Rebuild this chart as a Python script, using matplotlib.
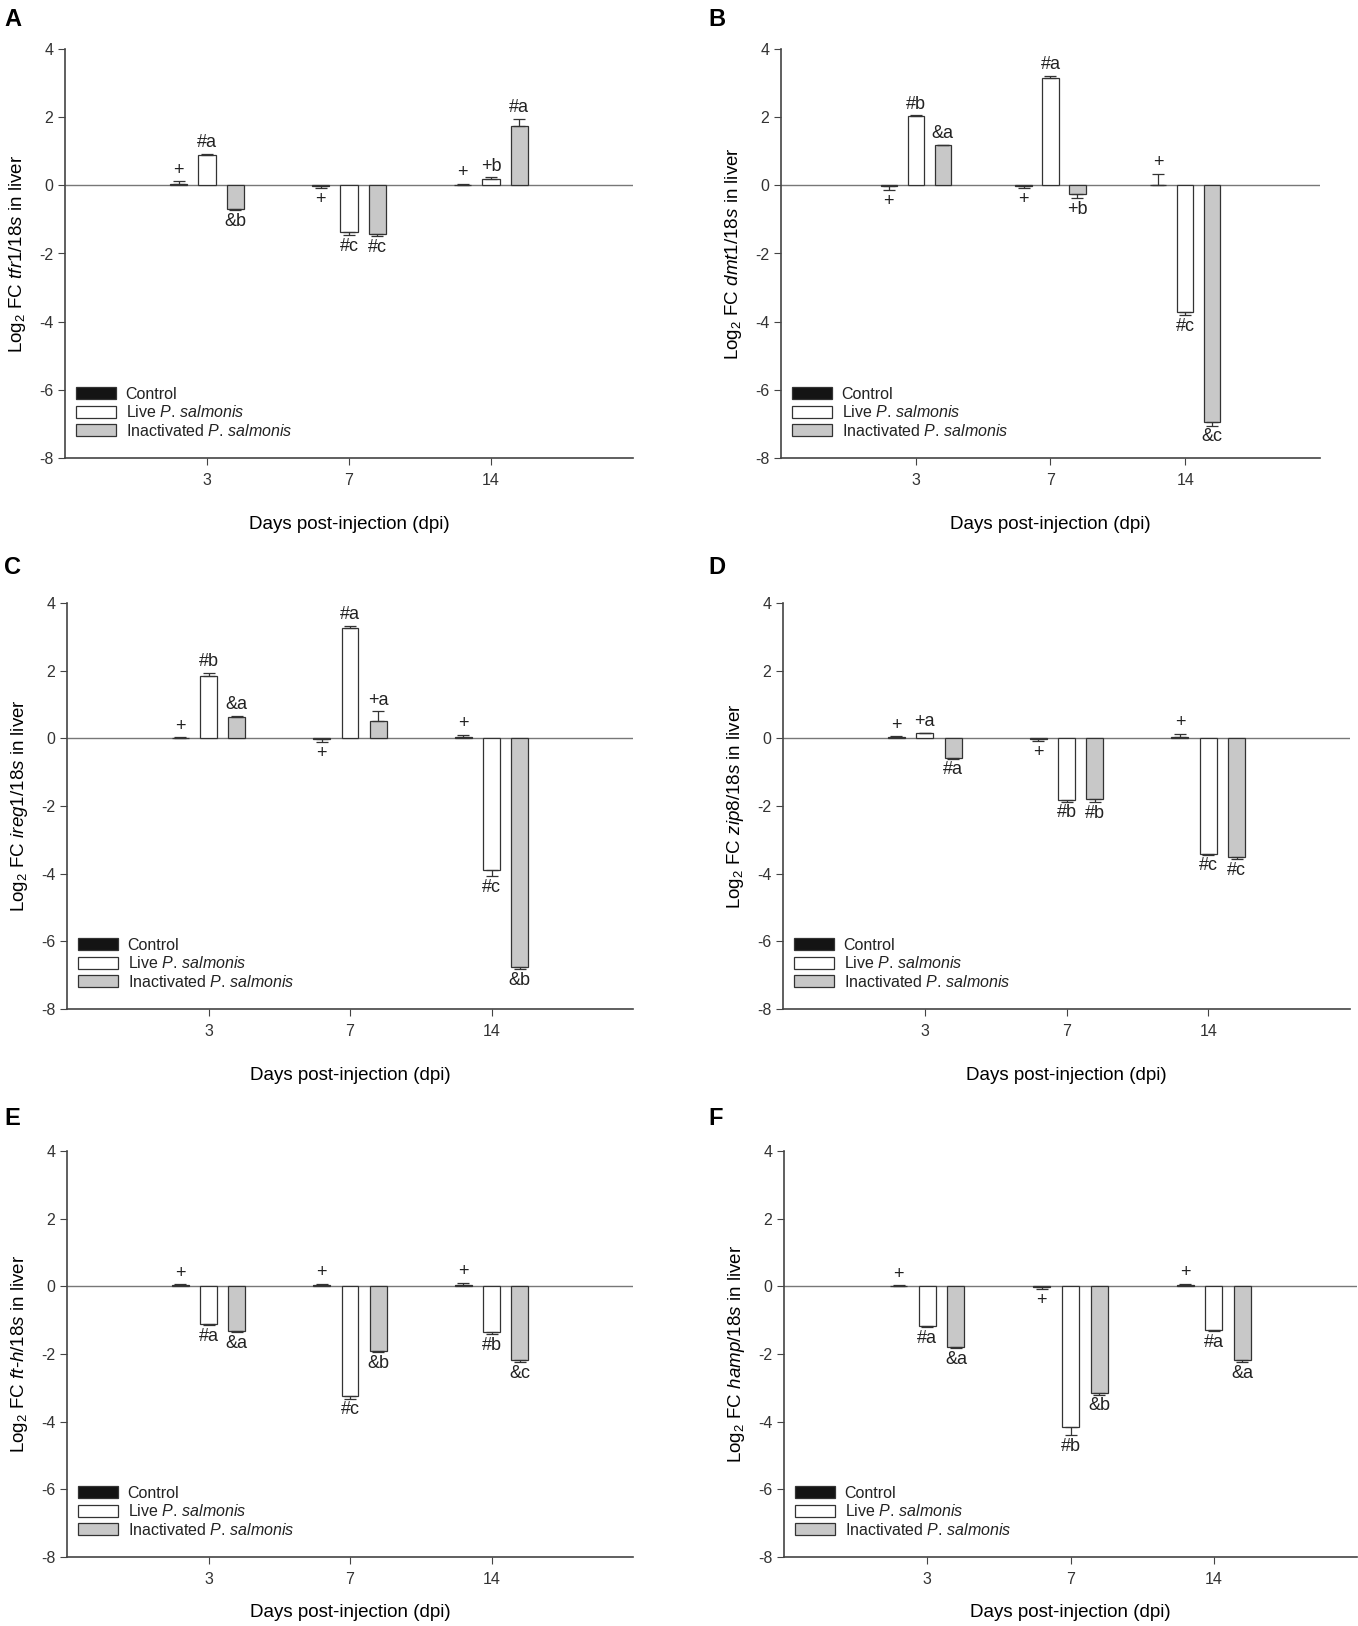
import matplotlib
matplotlib.use('Agg')
import matplotlib.pyplot as plt
import numpy as np
from matplotlib.patches import Patch

days = ['3', '7', '14']
groups = ['Control', r'Live $\mathit{P.\,salmonis}$',
          r'Inactivated $\mathit{P.\,salmonis}$']

# rows: control, live, inactivated ; columns: 3, 7, 14 dpi
tfr1_mean = [[0.05, -0.03, 0.02], [0.90, -1.37, 0.18], [-0.70, -1.42, 1.75]]
tfr1_err = [[0.07, 0.05, 0.02], [0.03, 0.10, 0.05], [0.02, 0.06, 0.20]]
tfr1_lbl = [['+', '+', '+'], ['#a', '#c', '+b'], ['&b', '#c', '#a']]

dmt1_mean = [[-0.03, -0.03, 0.0], [2.02, 3.15, -3.72], [1.17, -0.25, -6.95]]
dmt1_err = [[0.12, 0.05, 0.33], [0.03, 0.06, 0.08], [0.02, 0.13, 0.10]]
dmt1_lbl = [['+', '+', '+'], ['#b', '#a', '#c'], ['&a', '+b', '&c']]

ireg1_mean = [[0.02, -0.02, 0.05], [1.85, 3.25, -3.88], [0.62, 0.50, -6.75]]
ireg1_err = [[0.01, 0.10, 0.05], [0.08, 0.08, 0.20], [0.05, 0.30, 0.08]]
ireg1_lbl = [['+', '+', '+'], ['#b', '#a', '#c'], ['&a', '+a', '&b']]

zip8_mean = [[0.03, -0.02, 0.05], [0.15, -1.82, -3.42], [-0.58, -1.80, -3.50]]
zip8_err = [[0.03, 0.06, 0.08], [0.02, 0.05, 0.02], [0.02, 0.08, 0.08]]
zip8_lbl = [['+', '+', '+'], ['+a', '#b', '#c'], ['#a', '#b', '#c']]

fth_mean = [[0.03, 0.03, 0.05], [-1.12, -3.25, -1.35], [-1.32, -1.90, -2.18]]
fth_err = [[0.03, 0.05, 0.05], [0.03, 0.07, 0.07], [0.04, 0.04, 0.07]]
fth_lbl = [['+', '+', '+'], ['#a', '#c', '#b'], ['&a', '&b', '&c']]

hamp_mean = [[0.02, -0.03, 0.03], [-1.18, -4.15, -1.30], [-1.78, -3.15, -2.18]]
hamp_err = [[0.01, 0.05, 0.05], [0.02, 0.25, 0.03], [0.04, 0.05, 0.07]]
hamp_lbl = [['+', '+', '+'], ['#a', '#b', '#a'], ['&a', '&b', '&a']]

plt.rcParams['font.family'] = 'Liberation Sans'
plt.rcParams['mathtext.fontset'] = 'custom'
plt.rcParams['mathtext.rm'] = 'Liberation Sans'
plt.rcParams['mathtext.it'] = 'Liberation Sans:italic'
plt.rcParams['axes.unicode_minus'] = False
plt.rcParams['text.color'] = '#222222'

W, H = 1358, 1626
fig = plt.figure(figsize=(W / 100, H / 100), dpi=100)

colors = ['#141414', 'white', '#c8c8c8']
offs = [-0.2, 0.0, 0.2]
edge = '#333333'


def px_rect(x0, x1, y0, y1):
    return [x0 / W, 1 - y1 / H, (x1 - x0) / W, (y1 - y0) / H]


def panel(rect, mean, err, lbl, gene, letter, lpos, xpad=20):
    ax = fig.add_axes(px_rect(*rect))
    x = np.arange(len(days))
    for g in range(3):
        m = np.array(mean[g])
        e = np.array(err[g])
        xs = x + offs[g]
        ax.bar(xs, m, width=0.12, color=colors[g], edgecolor=edge, linewidth=0.9, zorder=3)
        lo = np.where(m < 0, e, 0)
        hi = np.where(m >= 0, e, 0)
        ax.errorbar(xs, m, yerr=[lo, hi], fmt='none', ecolor=edge, elinewidth=0.9,
                    capsize=4, capthick=0.9, zorder=4)
        for xi, mi, ei, t in zip(xs, m, e, lbl[g]):
            if mi >= 0:
                ax.text(xi, mi + ei + 0.08, t, ha='center', va='bottom', fontsize=13)
            else:
                ax.text(xi, mi - ei - 0.08, t, ha='center', va='top', fontsize=13)
    ax.axhline(0, color='#777777', lw=1, zorder=2)
    ax.set_xlim(-1, 3)
    ax.set_ylim(-8, 4)
    ax.set_yticks(range(-8, 5, 2))
    ax.set_xticks(x)
    ax.set_xticklabels(days)
    for s in ['top', 'right']:
        ax.spines[s].set_visible(False)
    for s in ['left', 'bottom']:
        ax.spines[s].set_color('#444444')
        ax.spines[s].set_linewidth(1.2)
    ax.tick_params(direction='out', length=5, color='#444444', labelsize=11.5,
                   labelcolor='#333333')
    ax.tick_params(axis='x', pad=6)
    ax.set_ylabel('Log$_2$ FC ' + gene + ' in liver', fontsize=13.5, labelpad=8)
    ax.set_xlabel('Days post-injection (dpi)', fontsize=13.5, labelpad=xpad)
    handles = [Patch(facecolor=c, edgecolor=edge, linewidth=0.9) for c in colors]
    ax.legend(handles, groups, loc='lower left', bbox_to_anchor=(0.0, 0.02), frameon=False,
              fontsize=11.5, handlelength=2.5, handleheight=0.8, labelspacing=0.15,
              handletextpad=0.6, borderaxespad=0.3)
    fig.text(lpos[0] / W, 1 - lpos[1] / H, letter, fontsize=17, fontweight='bold',
             ha='left', va='center', color='black')
    return ax


panel((65, 633, 49, 458), tfr1_mean, tfr1_err, tfr1_lbl, r'$\mathit{tfr1/18s}$', 'A', (4, 19))
panel((781, 1320, 49, 458), dmt1_mean, dmt1_err, dmt1_lbl, r'$\mathit{dmt1/18s}$', 'B', (708, 19))
panel((67, 633, 603, 1009), ireg1_mean, ireg1_err, ireg1_lbl, r'$\mathit{ireg1/18s}$', 'C', (4, 568))
panel((783, 1350, 603, 1009), zip8_mean, zip8_err, zip8_lbl, r'$\mathit{zip8/18s}$', 'D', (708, 568))
panel((67, 633, 1151, 1557), fth_mean, fth_err, fth_lbl, r'$\mathit{ft}$-$\mathit{h/18s}$', 'E', (4, 1118), xpad=12)
panel((784, 1357, 1151, 1557), hamp_mean, hamp_err, hamp_lbl, r'$\mathit{hamp/18s}$', 'F', (708, 1118), xpad=12)

fig.savefig('out.png', dpi=100)
